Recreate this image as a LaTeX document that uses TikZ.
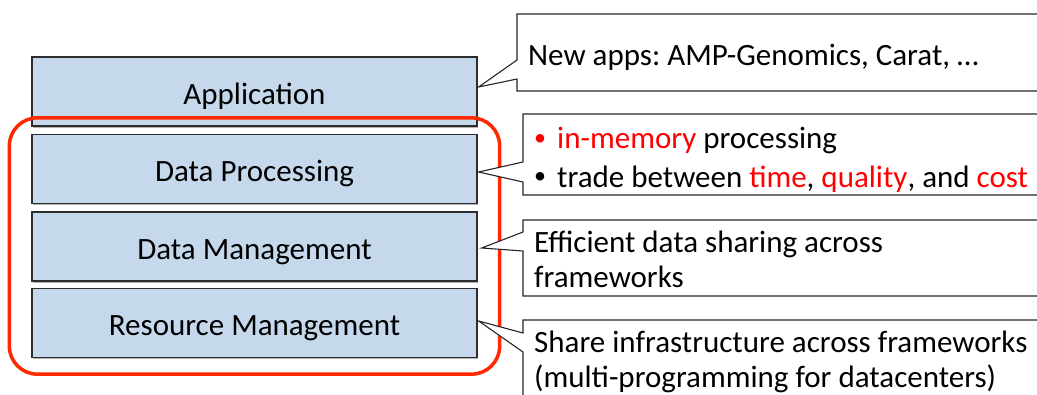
\documentclass[tikz,border=0pt]{standalone}
\usepackage{fontspec}
\setmainfont{Carlito}
\usetikzlibrary{calc,fit,shadows}
\definecolor{layerfill}{RGB}{198,217,236}
\definecolor{layeredge}{RGB}{45,45,45}
\definecolor{hilite}{RGB}{255,40,0}
\definecolor{accent}{RGB}{255,0,0}
\frenchspacing
\begin{document}
\begin{tikzpicture}[x=1pt,y=-1pt,
  layer/.style={draw=layeredge, line width=1.3pt, fill=layerfill,
    minimum width=445pt, minimum height=69pt, inner sep=0pt,
    text height=31pt, text depth=6pt, font=\fontsize{31}{36}\selectfont,
    drop shadow={shadow xshift=1.2pt, shadow yshift=-1.5pt, opacity=0.3, fill=black}},
  callout/.style={draw=black!85, line width=1.1pt, fill=white, line join=miter},
  note/.style={anchor=base west, inner sep=0pt, font=\fontsize{31}{36}\selectfont},
  bulletmark/.style={anchor=base, inner sep=0pt, font=\fontsize{24}{28}\selectfont},
  group/.style={draw=hilite, line width=3.5pt, rounded corners=28pt}
]
\useasboundingbox (0,0) rectangle (1037,394);
\clip (0,0) rectangle (1037,394);

% the layer stack
\node[layer] (app)  at (254.5,91.5) {Application};
\node[layer] (proc) at (254.5,169)  {Data Processing};
\node[layer] (mgmt) at (254.5,246.5){Data Management};
\node[layer] (res)  at (254.5,323)  {Resource Management};

% highlighted group of the lower three layers
\node[group, fit=(proc)(res), inner xsep=22pt, inner ysep=16pt] (core) {};

% pointer tips of the callouts
\coordinate (t1) at ($(app.east)+(1,-4.5)$);
\coordinate (t2) at ($(proc.east)+(1,3)$);
\coordinate (t3) at ($(mgmt.east)+(4,1.5)$);
\coordinate (t4) at ($(res.east)+(1,-2)$);

% callout outlines (open to the right)
\draw[callout] (1045,14) -- (517,14) -- (517,60) -- (t1) -- (517,79) -- (517,91) -- (1045,91);
\draw[callout] (1045,114) -- (523,114) -- (523,162) -- (t2) -- (523,182) -- (523,195) -- (1045,195);
\draw[callout] (1045,220) -- (523,220) -- (523,232) -- (t3) -- (523,251) -- (523,296) -- (1045,296);
\draw[callout] (1045,320) -- (523,320) -- (523,333) -- (t4) -- (523,352) -- (523,400) -- (1045,400);

% callout texts
\node[note] (n1) at (528,65) {New apps: AMP-Genomics, Carat, …};
\node[bulletmark, text=accent] (b2a) at (540,145.5) {•};
\node[bulletmark] (b2b) at (540,183.5) {•};
\node[note] (n2a) at (557,148) {\textcolor{accent}{in-memory} processing};
\node[note] (n2b) at (557,187) {trade between \textcolor{accent}{time}, \textcolor{accent}{quality}, and \textcolor{accent}{cost}};
\node[note] (n3a) at (534,252) {Efficient data sharing across};
\node[note] (n3b) at (534,287) {frameworks};
\node[note] (n4a) at (534,352) {Share infrastructure across frameworks};
\node[note] (n4b) at (534,387) {(multi-programming for datacenters)};
\end{tikzpicture}
\end{document}
